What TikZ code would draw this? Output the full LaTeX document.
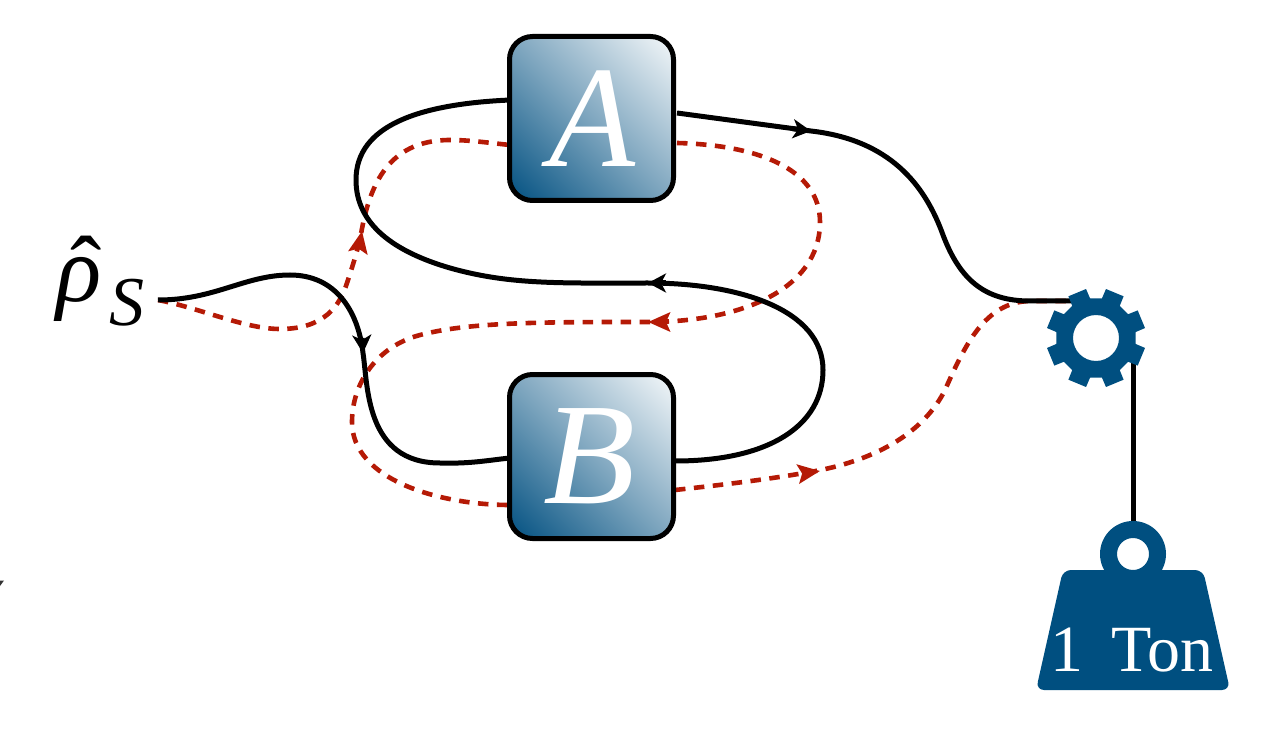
\documentclass[tikz,border=0pt]{standalone}
\usepackage{fontspec}
\usepackage{graphicx}
\setmainfont{Liberation Serif}
\usetikzlibrary{arrows.meta}
\definecolor{navy}{HTML}{004F80}
\definecolor{brick}{HTML}{B51A06}
\pgfdeclareverticalshading{boxshade}{100bp}{
  color(0bp)=(navy); color(17bp)=(navy!96); color(50bp)=(navy!50); color(83bp)=(navy!7); color(100bp)=(navy!4)}
\tikzset{
  x=1pt,y=-1pt,
  wire/.style={line width=5pt,black},
  redwire/.style={line width=4.6pt,brick,dash pattern=on 10.5pt off 8.5pt},
  blacktip/.style={line width=5pt,black,-{Stealth[length=18pt,width=19pt,inset=5pt]}},
  redtip/.style={line width=4.6pt,brick,-{Stealth[length=22pt,width=19pt,inset=4pt]}},
  box/.style={minimum width=164pt,minimum height=164pt,rounded corners=23pt,draw=black,line width=5pt,
    shading=boxshade,shading angle=-45,inner sep=0pt},
  letter/.style={text=white,inner sep=0pt,anchor=base,font=\fontsize{145}{145}\selectfont\itshape},
  navyfill/.style={fill=navy,draw=none}
}
\begin{document}
\begin{tikzpicture}
\useasboundingbox (0,0) rectangle (1288,743);
\coordinate (in) at (158,300);
\coordinate (tb) at (363,353);
\coordinate (tr) at (362,231);
\coordinate (ta) at (811,131);
\coordinate (tc) at (648,283);
\coordinate (td) at (648,322);
\coordinate (te) at (820,471);
\coordinate (out) at (1072,301);
\coordinate (ar) at (677,113);
\coordinate (al) at (510,100);
\coordinate (brl) at (510,458);
\coordinate (brr) at (675,461);
\coordinate (rar) at (677,143);
\coordinate (ral) at (510,145);
\coordinate (rbl) at (510,505);
\coordinate (rbr) at (675,490);
% red paths
\draw[redwire] (in) .. controls (200,308) and (245,329) .. (280,329)
  .. controls (325,329) and (340,305) .. (347,283) .. controls (352,268) and (356,255) .. (360,240)
  .. controls (368,190) and (385,140) .. (450,140) .. controls (470,140) and (490,143) .. (ral);
\draw[redtip] (359,247) -- (tr);
\draw[redwire] (rar) .. controls (760,145) and (820,170) .. (820,222)
  .. controls (820,290) and (740,322) .. (td)
  .. controls (540,322) and (470,322) .. (420,335)
  .. controls (375,347) and (352,385) .. (352,422) .. controls (352,480) and (440,505) .. (rbl);
\draw[redtip] (665,322) -- (td);
\draw[redwire] (rbr) .. controls (730,484) and (770,479) .. (810,472)
  .. controls (880,460) and (925,430) .. (945,390)
  .. controls (965,345) and (985,302) .. (1030,301) -- (out);
\draw[redtip] (802,473.5) -- (te);
% black paths
\draw[wire] (in) .. controls (215,300) and (245,275) .. (290,275)
  .. controls (335,275) and (358,310) .. (tb)
  .. controls (368,385) and (365,463) .. (440,463) .. controls (470,464) and (490,460) .. (brl);
\draw[blacktip] (362,338) -- (tb);
\draw[wire] (brr) .. controls (770,461) and (823,425) .. (823,370)
  .. controls (823,310) and (740,283) .. (tc)
  .. controls (560,283) and (510,285) .. (450,268)
  .. controls (395,252) and (356,225) .. (356,180) .. controls (356,125) and (420,104) .. (al);
\draw[blacktip] (666,283) -- (tc);
\draw[wire] (ar) -- (ta)
  .. controls (890,140) and (925,185) .. (943,235)
  .. controls (960,280) and (985,301) .. (1030,301) -- (out);
\draw[blacktip] (793,128.8) -- (ta);
% boxes
\node[box] (A) at (591.5,118.5) {};
\node[box] (B) at (591.5,456.5) {};
\node[letter] (Aletter) at (592,167) {\scalebox{.97}[1]{A}};
\node[letter] (Bletter) at (590,503) {\scalebox{1.04}[1]{B}};
% input label
\node[anchor=base west,inner sep=0pt,font=\fontsize{94}{94}\selectfont\itshape] (rho) at (56,302)
  {\rlap{\kern 14pt\raisebox{1pt}{\fontsize{94}{94}\selectfont\upshape ˆ}}ρ\kern 8pt\raisebox{-24pt}{\fontsize{70}{70}\selectfont S}};
% rope
\draw[line width=5pt] (1133,350) -- (1133,530);
% gear
\path[navyfill,even odd rule,shift={(1096,338)}]
  (11.5:50)
  \foreach \a in {22.5,67.5,...,337.5} { -- (\a-11:50) -- (\a+11:50) -- (\a+14:40) -- (\a+31:40) }
  -- cycle
  (0,0) circle (23);
% weight
\path[navyfill,even odd rule] (1133,554) circle (33) (1133,554) circle (16);
\path[navyfill,rounded corners=8pt] (1063,570) -- (1203,570) -- (1230,690) -- (1036,690) -- cycle;
\node[anchor=base,inner sep=0pt,text=white,font=\fontsize{66}{66}\selectfont] (ton) at (1132,671) {1\hspace{0.18em} Ton};
% small mark at the left edge
\fill[black!80] (0,580.5) -- (4,580.5) -- (0,586) -- cycle;
\end{tikzpicture}
\end{document}
